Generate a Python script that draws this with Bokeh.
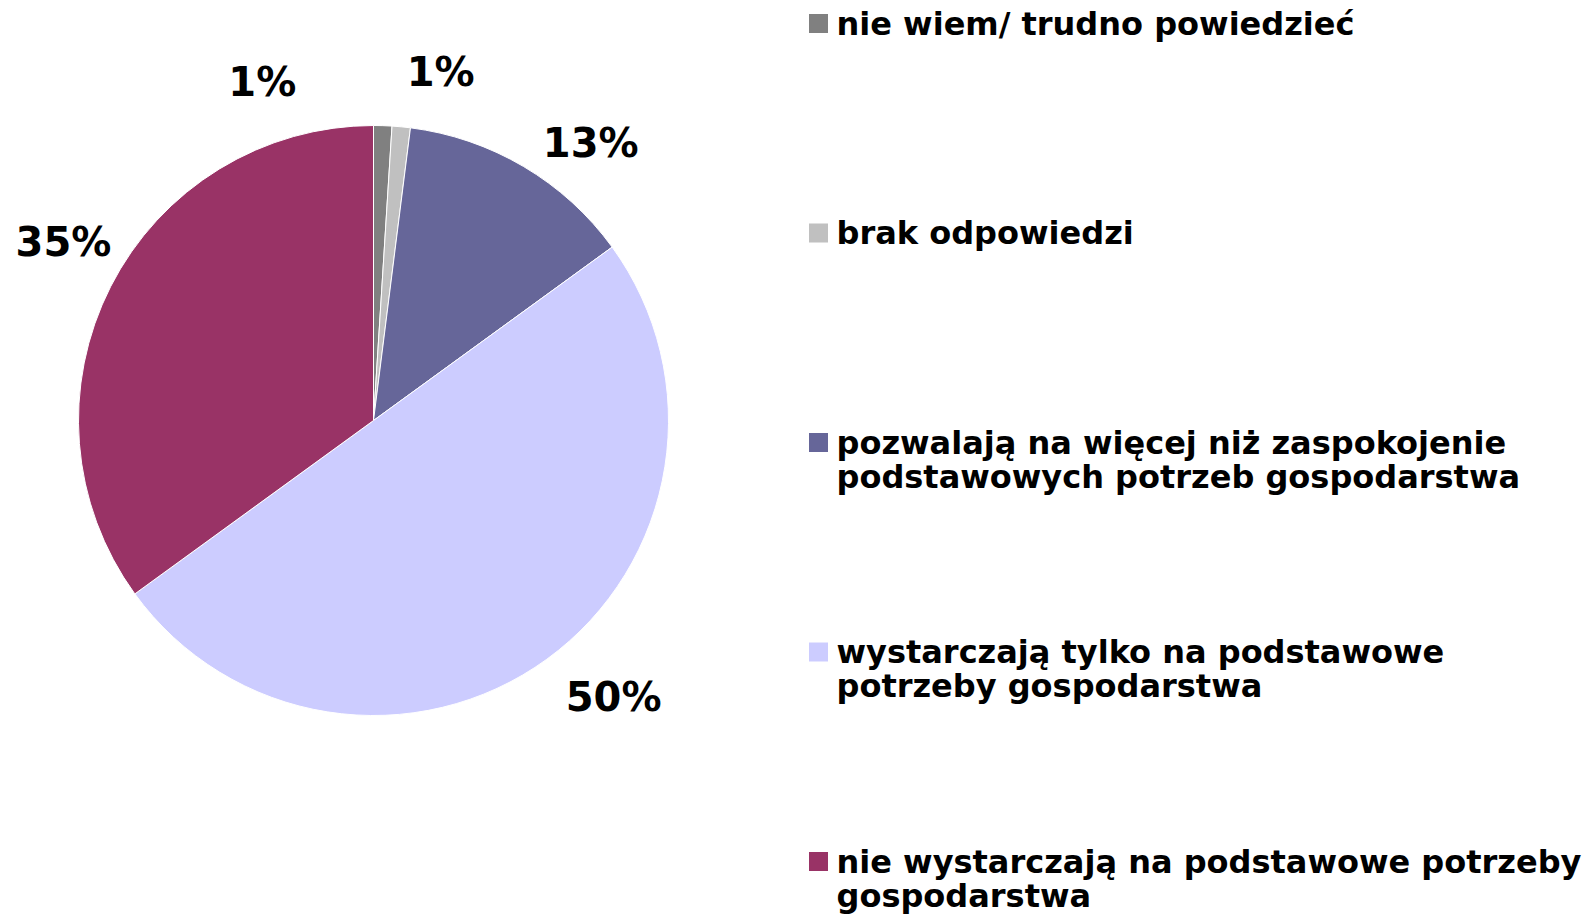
import math
from bokeh.plotting import figure
from bokeh.models import Range1d, ColumnDataSource
from bokeh.core.properties import value
from bokeh.embed import file_html
from bokeh.resources import INLINE

# ---- data ----
categories = [
    "nie wiem/ trudno powiedzieć",
    "brak odpowiedzi",
    "pozwalają na więcej niż zaspokojenie\npodstawowych potrzeb gospodarstwa",
    "wystarczają tylko na podstawowe\npotrzeby gospodarstwa",
    "nie wystarczają na podstawowe potrzeby\ngospodarstwa",
]
values = [1, 1, 13, 50, 35]
labels = ["1%", "1%", "13%", "50%", "35%"]
colors = ["#808080", "#C0C0C0", "#666699", "#CCCCFF", "#993366"]

# ---- layout / style (page pixel coordinates, y measured downward) ----
W, H = 1587, 916
CX, CY, R = 373, 420, 295
FONT = "DejaVu Sans"
label_r = [356, 355, 352, 366, 358]
label_da = [-20.0, 5.5, 7.5, -5.0, 3.0]  # degrees nudge (clockwise)


def fy(y_page):
    return H - y_page


p = figure(width=W, height=H, x_range=Range1d(0, W), y_range=Range1d(0, H),
           output_backend="svg", toolbar_location=None, min_border=0)
p.axis.visible = False
p.grid.visible = False
p.outline_line_color = None
p.background_fill_color = "white"

total = float(sum(values))
starts, ends, lx, ly = [], [], [], []
cum = 0.0
for i, v in enumerate(values):
    a0 = math.pi / 2 - 2 * math.pi * cum / total
    cum += v
    a1 = math.pi / 2 - 2 * math.pi * cum / total
    starts.append(a0)
    ends.append(a1)
    mid = (a0 + a1) / 2 - math.radians(label_da[i])
    lx.append(CX + label_r[i] * math.cos(mid))
    ly.append(fy(CY) + label_r[i] * math.sin(mid))

src = ColumnDataSource(dict(start=starts, end=ends, color=colors))
p.wedge(x=CX, y=fy(CY), radius=R, start_angle="start", end_angle="end",
        direction="clock", fill_color="color", line_color="white",
        line_width=1, source=src)

p.text(x=lx, y=ly, text=labels, text_font=value(FONT), text_font_style="bold",
       text_font_size="40px", text_color="black", text_align="center",
       text_baseline="middle")

# legend
leg_x_sq = 818
leg_x_txt = 836
leg_first = 23
leg_step = 209.5
sq_x, sq_y, tx, ty = [], [], [], []
for i in range(len(categories)):
    yc = leg_first + i * leg_step
    sq_x.append(leg_x_sq)
    sq_y.append(fy(yc))
    tx.append(leg_x_txt)
    ty.append(fy(yc - 19))
p.rect(x=sq_x, y=sq_y, width=19, height=19, fill_color=colors, line_color=None)
p.text(x=tx, y=ty, text=categories, text_font=value(FONT), text_font_style="bold",
       text_font_size="32px", text_color="black", text_align="left",
       text_baseline="top", text_line_height=0.9)

open("out.html", "w").write(file_html(p, INLINE))
